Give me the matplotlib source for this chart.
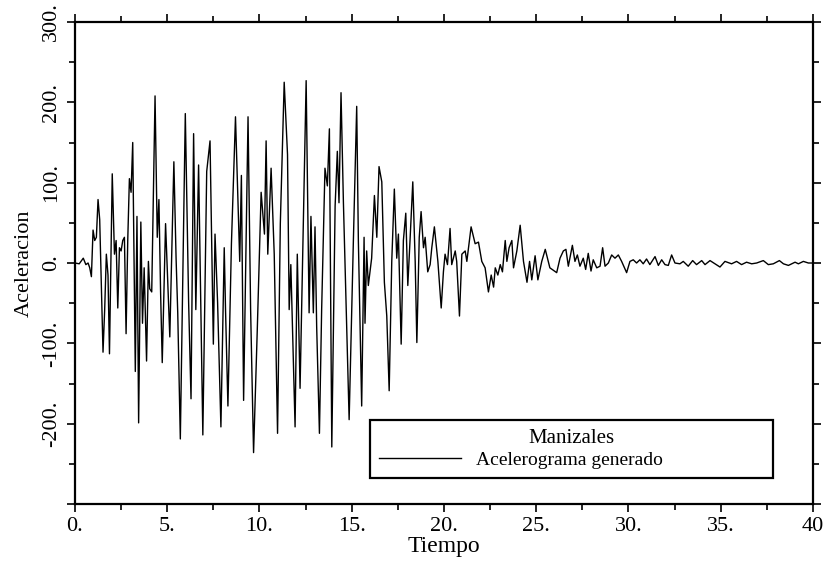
import numpy as np
import matplotlib
matplotlib.use("Agg")
import matplotlib.pyplot as plt
from matplotlib.ticker import MultipleLocator

# fuente tipo Times para todo el grafico
plt.rcParams['font.family'] = 'serif'
plt.rcParams['font.serif'] = ['Liberation Serif', 'DejaVu Serif']

# acelerograma (tiempo en s, aceleracion)
tiempo = [
    0.0, 0.23, 0.45, 0.59, 0.71, 0.80, 0.89, 0.98, 1.07, 1.16, 1.25, 1.34, 1.52, 1.61, 1.70,
    1.79, 1.87, 2.02, 2.14, 2.23, 2.32, 2.41, 2.50, 2.59, 2.68, 2.77, 2.86, 2.95, 3.04, 3.13,
    3.27, 3.36, 3.45, 3.57, 3.66, 3.75, 3.88, 3.98, 4.05, 4.16, 4.34, 4.46, 4.55, 4.64, 4.73,
    4.91, 5.14, 5.36, 5.48, 5.57, 5.71, 5.98, 6.16, 6.29, 6.43, 6.55, 6.70, 6.93, 7.14, 7.32,
    7.50, 7.59, 7.73, 7.91, 8.09, 8.16, 8.29, 8.48, 8.70, 8.93, 9.02, 9.14, 9.38, 9.52, 9.68,
    9.88, 10.09, 10.27, 10.36, 10.45, 10.63, 10.80, 10.98, 11.13, 11.34, 11.52, 11.61, 11.70,
    11.93, 12.05, 12.20, 12.32, 12.53,
    12.69, 12.79, 12.92, 13.01, 13.10, 13.25, 13.37, 13.55, 13.68, 13.79, 13.92, 14.10, 14.22,
    14.31, 14.42, 14.55, 14.86, 15.09, 15.27, 15.36, 15.54, 15.67, 15.72, 15.81, 15.90, 16.08,
    16.23, 16.36, 16.48, 16.63, 16.77, 16.90, 17.03, 17.17, 17.31, 17.44, 17.53, 17.68, 17.80,
    17.93, 18.04, 18.16, 18.31, 18.44, 18.53, 18.66, 18.76, 18.89, 18.98, 19.12, 19.25, 19.34,
    19.48, 19.67, 19.85, 19.97, 20.06, 20.19, 20.33, 20.42, 20.61, 20.69, 20.84, 20.97, 21.15,
    21.24, 21.47, 21.69, 21.87, 22.05, 22.23, 22.41, 22.56, 22.69, 22.78, 22.92, 23.05, 23.17,
    23.32, 23.41, 23.53, 23.68, 23.77, 23.95, 24.13, 24.31, 24.50, 24.64, 24.76, 24.94, 25.09,
    25.30, 25.49,
    25.74, 26.11, 26.29, 26.47, 26.61, 26.74, 26.96, 27.10, 27.23, 27.37, 27.55, 27.68, 27.82,
    27.97, 28.09, 28.28, 28.46, 28.60, 28.73, 28.91, 29.09, 29.27, 29.45, 29.63, 29.90, 30.08,
    30.26, 30.44, 30.62, 30.80, 30.98, 31.16, 31.44, 31.62, 31.80, 31.98, 32.16, 32.34, 32.52,
    32.79, 32.97, 33.24, 33.48, 33.69, 33.97, 34.15, 34.42, 34.69, 34.96, 35.23, 35.59, 35.86,
    36.13, 36.40, 36.68, 36.95, 37.31, 37.58, 37.85, 38.18, 38.40, 38.67, 39.03, 39.21, 39.48,
    39.75, 40.0,
]
aceleracion = [
    0, -1, 6, -2, 0, -6, -17, 41, 28, 32, 79, 54, -111, -58, 11,
    -15, -113, 111, 11, 28, -56, 19, 15, 28, 32, -88, 28, 105, 88, 150,
    -135, 58, -199, 51, -75, -6, -122, 2, -32, -36, 208, 32, 79, -36, -124,
    49, -92, 126, 6, -62, -219, 186, -49, -169, 161, -58, 122, -214, 114, 152,
    -101, 36, -49, -204, 19, -58, -178, 24, 182, 2, 109, -171, 182, -58, -236,
    -84, 88, 36, 152, 11, 118, 11, -212, 49, 225, 135, -58, -2,
    -204, 11, -156, -15, 227,
    -62, 58, -62, 45, -79, -212, -58, 118, 96, 167, -229, 71, 139,
    75, 212, 75, -195, 28, 195, 28, -178, 32, -75, 15, -28, 6,
    84, 32, 120, 101, -24, -66, -159, 2, 92, 6, 36, -101, 28,
    62, -28, 28, 101, 2, -99, 32, 64, 19, 32, -11, -2, 19,
    45, 2, -56, -11, 11, -2, 43, -2, 15, 2, -66, 11, 15,
    2, 45, 24, 26, 2, -6, -36, -15, -30, -6, -15, -2, -11,
    28, 2, 19, 28, -6, 15, 47, 2, -24, 2, -21, 9, -21,
    2, 17,
    -6, -12, 6, 15, 17, -4, 22, 2, 10, -4, 6, -8, 12,
    -10, 4, -6, -4, 19, -4, 0, 10, 6, 10, 2, -12, 2,
    4, 0, 4, -1, 5, -2, 8, -3, 4, -2, -3, 10, 0,
    -1, 2, -4, 3, -2, 3, -2, 3, -1, -5, 2, -1, 2,
    -2, 1, -1, 0, 3, -2, -1, 3, -1, -3, 1, -1, 2,
    0, 0,
]

yticks = [-300, -200, -100, 0, 100, 200, 300]
ytick_labels = ['', '-200.', '-100.', '0.', '100.', '200.', '300.']
xticks = [0, 5, 10, 15, 20, 25, 30, 35, 40]
xtick_labels = ['0.', '5.', '10.', '15.', '20.', '25.', '30.', '35.', '40']

fig = plt.figure(figsize=(8.23, 5.67), dpi=100)
ax = fig.add_axes([0.0911, 0.1111, 0.8967, 0.8501])

ax.plot(tiempo, aceleracion, color='black', lw=1.0, label='Acelerograma generado')

ax.set_xlim(0, 40)
ax.set_ylim(-300, 300)
ax.set_xticks(xticks, labels=xtick_labels)
ax.set_yticks(yticks, labels=ytick_labels)
ax.xaxis.set_minor_locator(MultipleLocator(2.5))
ax.yaxis.set_minor_locator(MultipleLocator(50))

# marcas hacia afuera en los cuatro lados
ax.tick_params(which='both', direction='out', top=True, right=True, width=1.2, labelsize=16)
ax.tick_params(which='major', length=6)
ax.tick_params(which='minor', length=4)
ax.tick_params(axis='y', labelrotation=90, pad=4)
for lab in ax.get_yticklabels():
    lab.set_va('center')
for s in ax.spines.values():
    s.set_linewidth(1.6)

ax.set_xlabel('Tiempo', fontsize=17, labelpad=0)
ax.set_ylabel('Aceleracion', fontsize=16, labelpad=6)

leg = ax.legend(title='Manizales', loc='lower left', bbox_to_anchor=(0.4, 0.054, 0.546, 0.114),
                mode='expand', borderaxespad=0, fontsize=14, title_fontsize=15,
                handlelength=4.2, handletextpad=0.8, borderpad=0.45, labelspacing=0.2,
                fancybox=False, framealpha=1, edgecolor='black')
leg.get_frame().set_linewidth(1.6)

plt.savefig('out.png', dpi=100)
